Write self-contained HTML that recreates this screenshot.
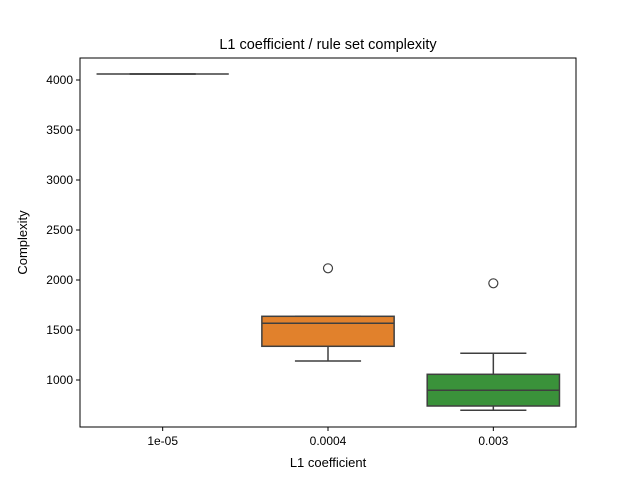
<!DOCTYPE html>
<html><head><meta charset="utf-8"><style>
body{margin:0;background:#fff;font-family:"Liberation Sans","DejaVu Sans",sans-serif}
</style></head><body>
<svg id="c" width="640" height="480" xmlns="http://www.w3.org/2000/svg"></svg>
<script>
const categories=["1e-05","0.0004","0.003"];
const whiskerLow=[4060,1190,697];
const q1=[4060,1337,740];
const median=[4060,1567,897];
const q3=[4060,1637,1057];
const whiskerHigh=[4060,1637,1267];
const outliers=[[],[2117],[1967]];
const colors=["#3a75af","#e1812c","#3a923a"];
const yTicks=[1000,1500,2000,2500,3000,3500,4000];
const L=80,R=576,T=58,B=427,yMin=530,yMax=4220;
const svg=document.getElementById('c');
const NS="http://www.w3.org/2000/svg";
function y(v){return B-(v-yMin)/(yMax-yMin)*(B-T);}
function x(i){return L+(i+0.5)*(R-L)/categories.length;}
function mk(tag,attrs,name,text){const e=document.createElementNS(NS,tag);for(const k in attrs)e.setAttribute(k,attrs[k]);


if(text!==undefined)e.textContent=text;svg.appendChild(e);return e;}
const bw=(R-L)/categories.length*0.8;
categories.forEach((c,i)=>{
 const cx=x(i),st="#3f3f3f";
 mk('line',{x1:cx,x2:cx,y1:y(whiskerLow[i]),y2:y(q1[i]),stroke:st,'stroke-width':1.5},'whisker-low-'+i);
 mk('line',{x1:cx,x2:cx,y1:y(whiskerHigh[i]),y2:y(q3[i]),stroke:st,'stroke-width':1.5},'whisker-high-'+i);
 mk('line',{x1:cx-bw/4,x2:cx+bw/4,y1:y(whiskerLow[i]),y2:y(whiskerLow[i]),stroke:st,'stroke-width':1.5},'cap-low-'+i);
 mk('line',{x1:cx-bw/4,x2:cx+bw/4,y1:y(whiskerHigh[i]),y2:y(whiskerHigh[i]),stroke:st,'stroke-width':1.5},'cap-high-'+i);
 mk('rect',{x:cx-bw/2,y:y(q3[i]),width:bw,height:Math.max(0,y(q1[i])-y(q3[i])),fill:colors[i],stroke:st,'stroke-width':1.5},'box-'+i);
 mk('line',{x1:cx-bw/2,x2:cx+bw/2,y1:y(median[i]),y2:y(median[i]),stroke:st,'stroke-width':1.5},'median-'+i);
 outliers[i].forEach(o=>mk('circle',{cx:cx,cy:y(o),r:4.5,fill:'none',stroke:st,'stroke-width':1.2},'outlier-'+i));
 mk('line',{x1:cx,x2:cx,y1:B,y2:B+4,stroke:'#000'},'x-tick-'+i);
 mk('text',{x:cx,y:B+18,'text-anchor':'middle','font-size':12},'x-tick-label-'+i,c);
});
yTicks.forEach(t=>{
 mk('line',{x1:L-4,x2:L,y1:y(t),y2:y(t),stroke:'#000'},'y-tick');
 mk('text',{x:L-7,y:y(t)+4,'text-anchor':'end','font-size':12},'y-tick-label',t);
});
mk('rect',{x:L,y:T,width:R-L,height:B-T,fill:'none',stroke:'#000','stroke-width':1},'plot-frame');
mk('text',{x:(L+R)/2,y:49,'text-anchor':'middle','font-size':14.5},'chart-title','L1 coefficient / rule set complexity');
mk('text',{x:(L+R)/2,y:467,'text-anchor':'middle','font-size':13},'x-axis-title','L1 coefficient');
mk('text',{x:27,y:(T+B)/2,'text-anchor':'middle','font-size':13,transform:`rotate(-90 27 ${(T+B)/2})`},'y-axis-title','Complexity');
</script>
</body></html>
